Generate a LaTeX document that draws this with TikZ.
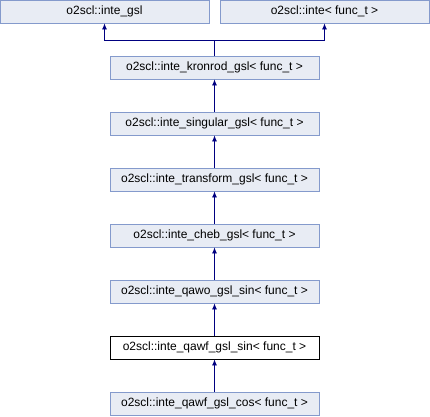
\documentclass[tikz,border=0pt]{standalone}
\usepackage{fontspec}
\setmainfont{Liberation Sans}
\usetikzlibrary{arrows.meta,positioning}
\definecolor{boxfill}{HTML}{E8ECF4}
\definecolor{boxline}{HTML}{849ACC}
\definecolor{linkcol}{HTML}{000080}

\begin{document}
\begin{tikzpicture}[
  x=1pt,y=-1pt,
  node distance=32.2pt,
  every node/.style={font=\fontsize{12}{14}\selectfont},
  cls/.style={draw=boxline,fill=boxfill,line width=.8pt,minimum width=209pt,minimum height=23pt,inner sep=0pt},
  current/.style={cls,draw=black,fill=white},
  inherit/.style={linkcol,line width=.8pt,-{Latex[length=6pt,width=5pt]}}
]
% Bounding box.
\useasboundingbox (0,0) rectangle (430,416);
% Base classes.
\node[cls] (gsl) at (104.5,11.5) {o2scl::inte\_gsl};
\node[cls] (inte) at (324.5,11.5) {o2scl::inte< func\_t >};
% The chain of derived classes.
\node[cls] (kronrod) at (214.5,67.5) {o2scl::inte\_kronrod\_gsl< func\_t >};
\node[cls,below=of kronrod] (singular) {o2scl::inte\_singular\_gsl< func\_t >};
\node[cls,below=of singular] (transform) {o2scl::inte\_transform\_gsl< func\_t >};
\node[cls,below=of transform] (cheb) {o2scl::inte\_cheb\_gsl< func\_t >};
\node[cls,below=of cheb] (qawo) {o2scl::inte\_qawo\_gsl\_sin< func\_t >};
\node[current,below=of qawo] (qawfsin) {o2scl::inte\_qawf\_gsl\_sin< func\_t >};
\node[cls,below=of qawfsin] (qawfcos) {o2scl::inte\_qawf\_gsl\_cos< func\_t >};

% Two parents share one junction.
\coordinate (fork) at (214.5,40);
\draw[linkcol,line width=.8pt] (kronrod.north) -- (fork);
\draw[inherit] (fork) -| (gsl.south);
\draw[inherit] (fork) -| (inte.south);

\draw[inherit] (singular) -- (kronrod);
\draw[inherit] (transform) -- (singular);
\draw[inherit] (cheb) -- (transform);
\draw[inherit] (qawo) -- (cheb);
\draw[inherit] (qawfsin) -- (qawo);
\draw[inherit] (qawfcos) -- (qawfsin);
\end{tikzpicture}
\end{document}
